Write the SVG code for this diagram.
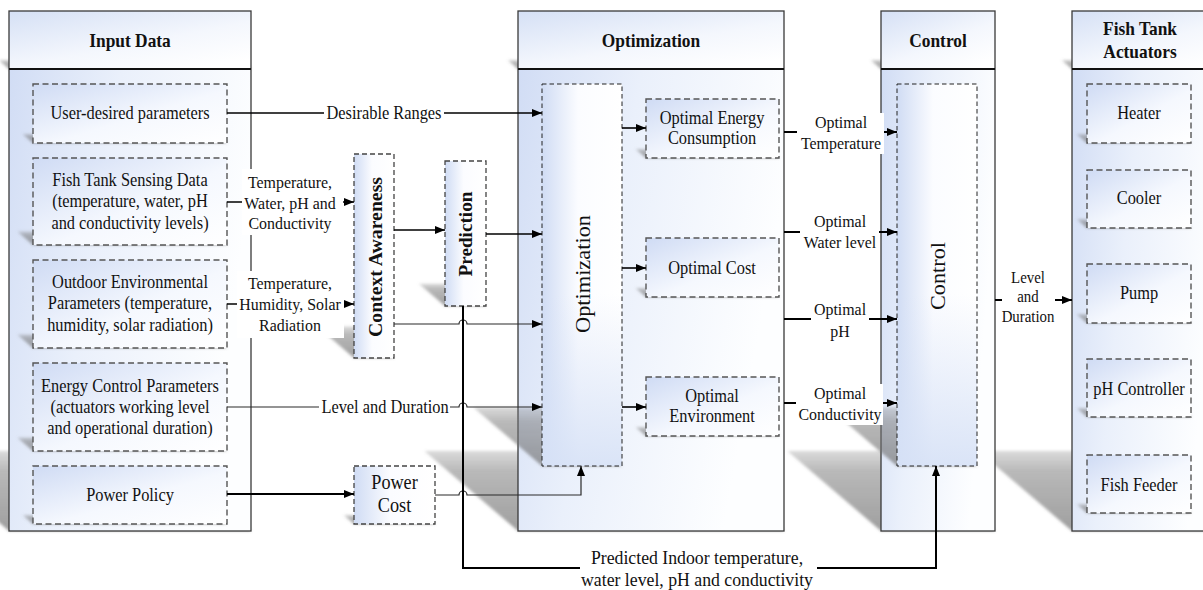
<svg xmlns="http://www.w3.org/2000/svg" width="1203" height="590" viewBox="0 0 1203 590">
  <defs>
    <style>
      .t { font-family: "Liberation Serif", "Times New Roman", serif; font-size: 18px; fill: #111; text-anchor: middle; }
      .h { font-weight: bold; font-size: 18.5px; }
      .lb { font-size: 17.5px; }
      .sm { font-size: 16.5px; }
      .big { font-size: 19.5px; }
      .pc { font-size: 20px; }
      .rot { font-size: 21px; }
      .rb { font-size: 19px; font-weight: bold; }
      .frame { fill: none; stroke: #3a3a3a; stroke-width: 1.3; }
      .hline { stroke: #111; stroke-width: 2; }
      .box { fill: url(#gBox); stroke: #555; stroke-width: 1.4; stroke-dasharray: 6 3.5; }
      .tall { fill: url(#gTall); }
      .tallEdge { fill: none; stroke: #222; stroke-width: 1; stroke-dasharray: 4.5 3; }
      .mid { fill: url(#gTall); stroke: #444; stroke-width: 1.3; stroke-dasharray: 5 3; }
      .c { fill: none; stroke: #000; stroke-width: 1.6; }
      .thin { stroke: #2a2a2a; stroke-width: 1.2; }
      .thick { stroke-width: 2; }
      .bg { fill: #ffffff; }
    </style>
    <linearGradient id="gPanel" x1="0" y1="0" x2="1" y2="0.35">
      <stop offset="0" stop-color="#cfdbf4"/>
      <stop offset="0.45" stop-color="#eaf0fb"/>
      <stop offset="1" stop-color="#fdfeff"/>
    </linearGradient>
    <linearGradient id="gHead" x1="0" y1="0" x2="0.8" y2="1">
      <stop offset="0" stop-color="#d5e0f5"/>
      <stop offset="0.6" stop-color="#f4f7fd"/>
      <stop offset="1" stop-color="#ffffff"/>
    </linearGradient>
    <linearGradient id="gBox" x1="0" y1="0" x2="1" y2="1">
      <stop offset="0" stop-color="#cfdbf4"/>
      <stop offset="0.55" stop-color="#f5f8fe"/>
      <stop offset="1" stop-color="#ffffff"/>
    </linearGradient>
    <linearGradient id="gTall" x1="0" y1="0" x2="1" y2="0">
      <stop offset="0" stop-color="#d0dcf4"/>
      <stop offset="0.45" stop-color="#fbfcff"/>
      <stop offset="1" stop-color="#ffffff"/>
    </linearGradient>
    <linearGradient id="gTallB" x1="0" y1="0" x2="0" y2="1">
      <stop offset="0" stop-color="#d6e1f6" stop-opacity="0"/>
      <stop offset="0.55" stop-color="#d6e1f6" stop-opacity="0"/>
      <stop offset="1" stop-color="#d6e1f6" stop-opacity="0.9"/>
    </linearGradient>
    <linearGradient id="gSh" x1="0" y1="0" x2="0" y2="1">
      <stop offset="0" stop-color="#7a7a7a" stop-opacity="0.28"/>
      <stop offset="0.25" stop-color="#727272" stop-opacity="0.5"/>
      <stop offset="1" stop-color="#6a6a6a" stop-opacity="0.65"/>
    </linearGradient>
    <filter id="soft" filterUnits="userSpaceOnUse" x="-40" y="0" width="1300" height="600">
      <feGaussianBlur stdDeviation="1.8"/>
    </filter>
    <marker id="ah" viewBox="0 0 10 8" refX="10" refY="4" markerWidth="10" markerHeight="8" markerUnits="userSpaceOnUse" orient="auto">
      <path d="M0,0 L10,4 L0,8 z" fill="#000"/>
    </marker>
  </defs>

  <rect width="1203" height="590" fill="#ffffff"/>

  <!-- perspective shadows of the panels and their headers -->
  <g id="panel-shadows" fill="url(#gSh)" filter="url(#soft)">
    <polygon points="9,531 251,531 157.4,451 -84.6,451"/>
    <polygon points="518,531 784,531 690.4,451 424.4,451"/>
    <polygon points="881,531 995,531 901.4,451 787.4,451"/>
    <polygon points="1072,531 1222,531 1128.4,451 978.4,451"/>
    <polygon points="9,69 251,69 240.6,60.1 -1.4,60.1"/>
    <polygon points="518,69 784,69 773.6,60.1 507.6,60.1"/>
    <polygon points="881,69 995,69 984.6,60.1 870.6,60.1"/>
    <polygon points="1072,69 1222,69 1211.6,60.1 1061.6,60.1"/>
  </g>

  <!-- panels -->
  <g id="panel-input">
    <rect x="9" y="11" width="242" height="520" fill="url(#gPanel)"/>
    <rect x="9" y="11" width="242" height="58" fill="url(#gHead)"/>
    <rect class="frame" x="9" y="11" width="242" height="520"/>
    <line class="hline" x1="9" y1="69" x2="251" y2="69"/>
    <text class="t h" transform="translate(130,47) scale(.94,1)">Input Data</text>
  </g>
  <g id="panel-optimization">
    <rect x="518" y="11" width="266" height="520" fill="url(#gPanel)"/>
    <rect x="518" y="11" width="266" height="58" fill="url(#gHead)"/>
    <rect class="frame" x="518" y="11" width="266" height="520"/>
    <line class="hline" x1="518" y1="69" x2="784" y2="69"/>
    <text class="t h" transform="translate(651,47) scale(.94,1)">Optimization</text>
  </g>
  <g id="panel-control">
    <rect x="881" y="11" width="114" height="520" fill="url(#gPanel)"/>
    <rect x="881" y="11" width="114" height="58" fill="url(#gHead)"/>
    <rect class="frame" x="881" y="11" width="114" height="520"/>
    <line class="hline" x1="881" y1="69" x2="995" y2="69"/>
    <text class="t h" transform="translate(938,47) scale(.94,1)">Control</text>
  </g>
  <g id="panel-actuators">
    <rect x="1072" y="11" width="150" height="520" fill="url(#gPanel)"/>
    <rect x="1072" y="11" width="150" height="58" fill="url(#gHead)"/>
    <rect class="frame" x="1072" y="11" width="150" height="520"/>
    <line class="hline" x1="1072" y1="69" x2="1222" y2="69"/>
    <text class="t h" transform="translate(1140,35) scale(.94,1)">Fish Tank<tspan x="0" dy="23">Actuators</tspan></text>
  </g>

  <!-- shadows of the inner boxes -->
  <g id="box-shadows" fill="url(#gSh)" filter="url(#soft)">
    <polygon points="33,143 227,143 216.4,133.9 22.4,133.9"/>
    <polygon points="33,245 227,245 211.3,231.6 17.3,231.6"/>
    <polygon points="33,348 227,348 211.2,334.4 17.2,334.4"/>
    <polygon points="33,451 227,451 211.2,437.4 17.2,437.4"/>
    <polygon points="33,524 227,524 216.6,515.1 22.6,515.1"/>
    <polygon points="354,358 394,358 357.3,326.6 317.3,326.6"/>
    <polygon points="445,306 486,306 459.9,283.7 418.9,283.7"/>
    <polygon points="354,524 435,524 424.6,515.1 343.6,515.1"/>
    <polygon points="542,466 622,466 553.2,407.2 473.2,407.2"/>
    <polygon points="646,158 779,158 768.4,148.9 635.4,148.9"/>
    <polygon points="646,297 779,297 768.4,287.9 635.4,287.9"/>
    <polygon points="646,436 779,436 768.4,426.9 635.4,426.9"/>
    <polygon points="897,466 977,466 908.2,407.2 828.2,407.2"/>
    <polygon points="1087,143 1191,143 1180.4,133.9 1076.4,133.9"/>
    <polygon points="1087,228 1191,228 1180.6,219.1 1076.6,219.1"/>
    <polygon points="1087,323 1191,323 1180.4,313.9 1076.4,313.9"/>
    <polygon points="1087,417 1191,417 1180.6,408.1 1076.6,408.1"/>
    <polygon points="1087,513 1191,513 1180.6,504.1 1076.6,504.1"/>
  </g>

  <!-- input data items -->
  <g id="user-desired">
    <rect class="box" x="33" y="84" width="194" height="59"/>
    <text class="t" transform="translate(130,119) scale(.91,1)">User-desired parameters</text>
  </g>
  <g id="sensing-data">
    <rect class="box" x="33" y="158" width="194" height="87"/>
    <text class="t" transform="translate(130,186) scale(.91,1)">Fish Tank Sensing Data<tspan x="0" dy="21.5">(temperature, water, pH</tspan><tspan x="0" dy="21.5">and conductivity levels)</tspan></text>
  </g>
  <g id="outdoor-parameters">
    <rect class="box" x="33" y="260" width="194" height="88"/>
    <text class="t" transform="translate(130,288) scale(.91,1)">Outdoor Environmental<tspan x="0" dy="21.5">Parameters (temperature,</tspan><tspan x="0" dy="21.5">humidity, solar radiation)</tspan></text>
  </g>
  <g id="energy-control">
    <rect class="box" x="33" y="363" width="194" height="88"/>
    <text class="t" transform="translate(130,392) scale(.91,1)">Energy Control Parameters<tspan x="0" dy="21">(actuators working level</tspan><tspan x="0" dy="21">and operational duration)</tspan></text>
  </g>
  <g id="power-policy">
    <rect class="box" x="33" y="466" width="194" height="58"/>
    <text class="t" transform="translate(130,501) scale(.91,1)">Power Policy</text>
  </g>

  <!-- intermediate processing blocks -->
  <g id="context-awareness">
    <rect class="mid" x="354" y="154" width="40" height="204"/>
    <text class="t rb" transform="translate(382,257) rotate(-90)" textLength="160" lengthAdjust="spacingAndGlyphs">Context Awareness</text>
  </g>
  <g id="prediction">
    <rect class="mid" x="445" y="161" width="41" height="145"/>
    <text class="t rb" transform="translate(472,234) rotate(-90)" textLength="85" lengthAdjust="spacingAndGlyphs">Prediction</text>
  </g>
  <g id="power-cost">
    <rect class="mid" x="354" y="466" width="81" height="58"/>
    <text class="t pc" transform="translate(394.5,489) scale(.91,1)">Power<tspan x="0" dy="23">Cost</tspan></text>
  </g>

  <!-- optimization blocks -->
  <g id="optimization-core">
    <rect class="tall" x="542" y="84" width="80" height="382"/>
    <rect x="542" y="84" width="80" height="382" fill="url(#gTallB)"/>
    <rect class="tallEdge" x="542" y="84" width="80" height="382"/>
    <text class="t rot" transform="translate(590,274) rotate(-90)" textLength="118" lengthAdjust="spacingAndGlyphs">Optimization</text>
  </g>
  <g id="optimal-energy">
    <rect class="box" x="646" y="99" width="133" height="59"/>
    <text class="t" transform="translate(712,123.5) scale(.91,1)">Optimal Energy<tspan x="0" dy="21">Consumption</tspan></text>
  </g>
  <g id="optimal-cost">
    <rect class="box" x="646" y="238" width="133" height="59"/>
    <text class="t" transform="translate(712,274) scale(.91,1)">Optimal Cost</text>
  </g>
  <g id="optimal-environment">
    <rect class="box" x="646" y="377" width="133" height="59"/>
    <text class="t" transform="translate(712,401.5) scale(.91,1)">Optimal<tspan x="0" dy="21">Environment</tspan></text>
  </g>

  <!-- control block -->
  <g id="control-core">
    <rect class="tall" x="897" y="84" width="80" height="382"/>
    <rect x="897" y="84" width="80" height="382" fill="url(#gTallB)"/>
    <rect class="tallEdge" x="897" y="84" width="80" height="382"/>
    <text class="t rot" transform="translate(945,276) rotate(-90)" textLength="68" lengthAdjust="spacingAndGlyphs">Control</text>
  </g>

  <!-- actuators -->
  <g id="heater">
    <rect class="box" x="1087" y="84" width="104" height="59"/>
    <text class="t" transform="translate(1139,119) scale(.91,1)">Heater</text>
  </g>
  <g id="cooler">
    <rect class="box" x="1087" y="170" width="104" height="58"/>
    <text class="t" transform="translate(1139,204) scale(.91,1)">Cooler</text>
  </g>
  <g id="pump">
    <rect class="box" x="1087" y="264" width="104" height="59"/>
    <text class="t" transform="translate(1139,299) scale(.91,1)">Pump</text>
  </g>
  <g id="ph-controller">
    <rect class="box" x="1087" y="359" width="104" height="58"/>
    <text class="t" transform="translate(1139,395) scale(.91,1)">pH Controller</text>
  </g>
  <g id="fish-feeder">
    <rect class="box" x="1087" y="455" width="104" height="58"/>
    <text class="t" transform="translate(1139,491) scale(.91,1)">Fish Feeder</text>
  </g>

  <!-- connectors and their labels -->
  <g id="connectors">
    <path class="c" d="M227,113 H542" marker-end="url(#ah)"/>
    <path class="c" d="M227,202 H354" marker-end="url(#ah)"/>
    <path class="c" d="M227,304 H354" marker-end="url(#ah)"/>
    <path class="c" d="M394,230 H445" marker-end="url(#ah)"/>
    <path class="c" d="M486,234 H542" marker-end="url(#ah)"/>
    <path class="c thin" d="M394,324 H459 A4,4 0 0 1 467,324 H542" marker-end="url(#ah)"/>
    <path class="c thin" d="M227,407 H459 A4,4 0 0 1 467,407 H542" marker-end="url(#ah)"/>
    <path class="c thick" d="M227,494 H354" marker-end="url(#ah)"/>
    <path class="c thin" d="M435,495 H459 A4,4 0 0 1 467,495 H581 V466" marker-end="url(#ah)"/>
    <path class="c thick" d="M463,306 V568 H936 V466" marker-end="url(#ah)"/>
    <path class="c" d="M622,128 H646" marker-end="url(#ah)"/>
    <path class="c" d="M622,268 H646" marker-end="url(#ah)"/>
    <path class="c" d="M622,407 H646" marker-end="url(#ah)"/>
    <path class="c thick" d="M784,132 H897" marker-end="url(#ah)"/>
    <path class="c thick" d="M784,232 H897" marker-end="url(#ah)"/>
    <path class="c thick" d="M784,319 H897" marker-end="url(#ah)"/>
    <path class="c thick" d="M784,403 H897" marker-end="url(#ah)"/>
    <path class="c thick" d="M995,300 H1072" marker-end="url(#ah)"/>

    <rect class="bg" x="324" y="103" width="120" height="19"/>
    <text class="t" transform="translate(384,119) scale(.91,1)">Desirable Ranges</text>

    <rect class="bg" x="242" y="169" width="101" height="66"/>
    <text class="t lb" transform="translate(290,188) scale(.91,1)">Temperature,<tspan x="0" dy="20.7">Water, pH and</tspan><tspan x="0" dy="20.7">Conductivity</tspan></text>

    <rect class="bg" x="237" y="271" width="107" height="67"/>
    <text class="t lb" transform="translate(290,289) scale(.91,1)">Temperature,<tspan x="0" dy="21">Humidity, Solar</tspan><tspan x="0" dy="21">Radiation</tspan></text>

    <rect class="bg" x="319" y="398" width="131" height="19"/>
    <text class="t" transform="translate(385,413) scale(.91,1)">Level and Duration</text>

    <rect class="bg" x="797" y="113" width="87" height="41"/>
    <text class="t lb" transform="translate(841,128) scale(.91,1)">Optimal<tspan x="0" dy="21">Temperature</tspan></text>

    <rect class="bg" x="800" y="212" width="79" height="42"/>
    <text class="t lb" transform="translate(840,227) scale(.91,1)">Optimal<tspan x="0" dy="21">Water level</tspan></text>

    <rect class="bg" x="811" y="300" width="58" height="42"/>
    <text class="t lb" transform="translate(840,315) scale(.91,1)">Optimal<tspan x="0" dy="22">pH</tspan></text>

    <rect class="bg" x="796" y="384" width="87" height="41"/>
    <text class="t lb" transform="translate(840,399) scale(.91,1)">Optimal<tspan x="0" dy="21">Conductivity</tspan></text>

    <rect class="bg" x="1002" y="267" width="53" height="60"/>
    <text class="t sm" transform="translate(1028,283) scale(.9,1)">Level<tspan x="0" dy="19.5">and</tspan><tspan x="0" dy="19.5">Duration</tspan></text>

    <rect class="bg" x="580" y="547" width="237" height="43"/>
    <text class="t big" transform="translate(697,564) scale(.91,1)">Predicted Indoor temperature,<tspan x="0" dy="22.5">water level, pH and conductivity</tspan></text>
  </g>
</svg>
